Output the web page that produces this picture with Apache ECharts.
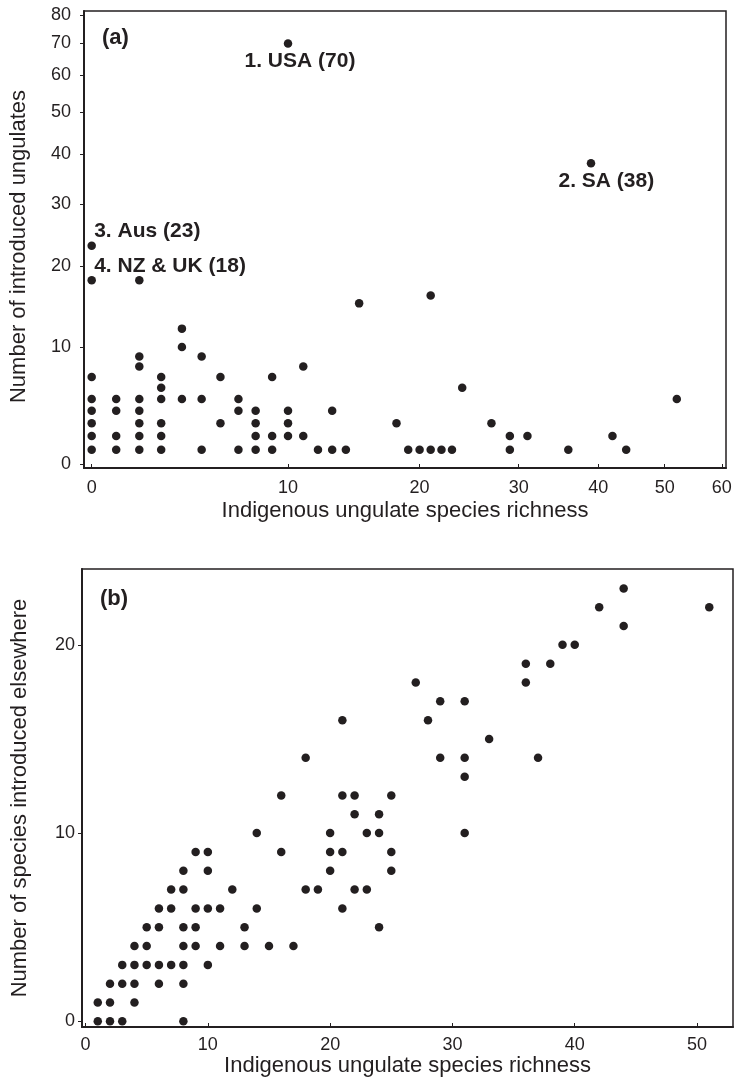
<!DOCTYPE html>
<html>
<head>
<meta charset="utf-8">
<title>Introduced ungulates</title>
<script src="https://cdn.jsdelivr.net/npm/echarts@6/dist/echarts.min.js"></script>
<style>
  html, body { margin: 0; padding: 0; background: #fff; }
  #chart { width: 736px; height: 1084px; }
</style>
</head>
<body>
<div id="chart"></div>
<script>
// (a) indigenous richness vs number of introduced ungulates, [richness, introduced]
const pointsA = [
  [0, 1], [0, 2], [0, 3], [0, 4], [0, 5], [0, 7], [0, 18], [0, 23],
  [1, 1], [1, 2], [1, 4], [1, 5],
  [2, 1], [2, 2], [2, 3], [2, 4], [2, 5], [2, 8], [2, 9], [2, 18],
  [3, 1], [3, 2], [3, 3], [3, 5], [3, 6], [3, 7],
  [4, 5], [4, 10], [4, 12],
  [5, 1], [5, 5], [5, 9],
  [6, 3], [6, 7],
  [7, 1], [7, 4], [7, 5],
  [8, 1], [8, 2], [8, 3], [8, 4],
  [9, 1], [9, 2], [9, 7],
  [10, 2], [10, 3], [10, 4], [10, 70],
  [11, 2], [11, 8],
  [12, 1], [13, 1], [13, 4], [14, 1], [15, 15],
  [18, 3], [19, 1], [20, 1], [21, 1], [21, 16], [22, 1], [23, 1], [24, 6],
  [27, 3], [29, 1], [29, 2], [31, 2], [36, 1], [39, 38], [42, 2], [44, 1], [52, 5],
]
const ticksXA = [0, 10, 20, 30, 40, 50, 60]
const ticksYA = [0, 10, 20, 30, 40, 50, 60, 70, 80]
const annotationText = ['1. USA (70)', '2. SA (38)', '3. Aus (23)', '4. NZ & UK (18)']
const annotationAt = [[10, 70], [39, 38], [0, 23], [0, 18]]

// (b) indigenous richness vs number of species introduced elsewhere
const pointsB = [
  [1, 0], [1, 1], [2, 0], [2, 1], [2, 2], [3, 0], [3, 2], [3, 3],
  [4, 1], [4, 2], [4, 3], [4, 4], [5, 3], [5, 4], [5, 5],
  [6, 2], [6, 3], [6, 5], [6, 6], [7, 3], [7, 6], [7, 7],
  [8, 0], [8, 2], [8, 3], [8, 4], [8, 5], [8, 7], [8, 8],
  [9, 4], [9, 5], [9, 6], [9, 9], [10, 3], [10, 6], [10, 8], [10, 9],
  [11, 4], [11, 6], [12, 7], [13, 4], [13, 5], [14, 6], [14, 10], [15, 4],
  [16, 9], [16, 12], [17, 4], [18, 7], [18, 14], [19, 7],
  [20, 8], [20, 9], [20, 10], [21, 6], [21, 9], [21, 12], [21, 16],
  [22, 7], [22, 11], [22, 12], [23, 7], [23, 10], [24, 5], [24, 10], [24, 11],
  [25, 8], [25, 9], [25, 12], [27, 18], [28, 16], [29, 14], [29, 17],
  [31, 10], [31, 13], [31, 14], [31, 17], [33, 15], [36, 18], [36, 19], [37, 14],
  [38, 19], [39, 20], [40, 20], [42, 22], [44, 21], [44, 23], [51, 22],
]
const ticksXB = [0, 10, 20, 30, 40, 50]
const ticksYB = [0, 10, 20]

// panel (a) uses log(v + c) scales on both axes
const fx = v => Math.log((v + 16) / 16)
const fxInv = t => 16 * Math.exp(t) - 16
const fy = v => Math.log((v + 18) / 18)
const fyInv = t => 18 * Math.exp(t) - 18

const ink = '#231f20'
const font = '"Liberation Sans", Arial, Helvetica, sans-serif'
const labelOffsets = [[-43, 18], [-32, 18], [3, -14], [3, -14]]

const line = { show: true, onZero: false, lineStyle: { color: ink, width: 2 } }
const tickLabel = { color: ink, fontSize: 18, fontFamily: font }
const axisName = { color: ink, fontSize: 22, fontFamily: font }
const panelRich = {
  n: { fontSize: 22, fontFamily: font, color: ink },
  b: { fontSize: 22, fontFamily: font, color: ink, fontWeight: 'bold' },
}

const chart = echarts.init(document.getElementById('chart'), null, { renderer: 'canvas' })

chart.setOption({
  animation: false,
  backgroundColor: '#fff',
  title: [
    { text: '{n|(}{b|a}{n|)}', left: 97, top: 22, textStyle: { rich: panelRich } },
    { text: '{n|(}{b|b}{n|)}', left: 95, top: 583, textStyle: { rich: panelRich } },
  ],
  grid: [
    { left: 83, top: 11, width: 643, height: 457, show: true, borderColor: ink, borderWidth: 1.5, backgroundColor: 'transparent' },
    { left: 82, top: 569, width: 651, height: 458, show: true, borderColor: ink, borderWidth: 1.5, backgroundColor: 'transparent' },
  ],
  xAxis: [
    {
      gridIndex: 0, type: 'value', min: -0.019, max: 1.5686,
      axisLine: line,
      axisTick: { show: true, inside: true, length: 4, lineStyle: { color: ink }, customValues: ticksXA.map(fx) },
      axisLabel: { ...tickLabel, margin: 11, customValues: ticksXA.map(fx), formatter: v => Math.round(fxInv(v)) },
      splitLine: { show: false },
      name: 'Indigenous ungulate species richness', nameLocation: 'middle', nameGap: 32, nameTextStyle: axisName,
    },
    {
      gridIndex: 1, type: 'value', min: -0.29, max: 52.94,
      axisLine: line,
      axisTick: { show: true, inside: true, length: 4, lineStyle: { color: ink }, customValues: ticksXB },
      axisLabel: { ...tickLabel, margin: 9, customValues: ticksXB },
      splitLine: { show: false },
      name: 'Indigenous ungulate species richness', nameLocation: 'middle', nameGap: 28, nameTextStyle: axisName,
    },
  ],
  yAxis: [
    {
      gridIndex: 0, type: 'value', min: -0.0151, max: 1.7094,
      axisLine: line,
      axisTick: { show: true, length: 4, lineStyle: { color: ink }, customValues: ticksYA.map(fy) },
      axisLabel: { ...tickLabel, margin: 13, customValues: ticksYA.map(fy), formatter: v => Math.round(fyInv(v)) },
      splitLine: { show: false },
      name: 'Number of introduced ungulates', nameLocation: 'middle', nameGap: 54,
      nameTextStyle: { ...axisName, padding: [0, 0, 0, -14] },
    },
    {
      gridIndex: 1, type: 'value', min: -0.3, max: 24.03,
      axisLine: line,
      axisTick: { show: true, length: 4, lineStyle: { color: ink }, customValues: ticksYB },
      axisLabel: { ...tickLabel, margin: 7, customValues: ticksYB },
      splitLine: { show: false },
      name: 'Number of species introduced elsewhere', nameLocation: 'middle', nameGap: 51, nameTextStyle: axisName,
    },
  ],
  series: [
    {
      type: 'scatter', xAxisIndex: 0, yAxisIndex: 0,
      symbolSize: 8.5, itemStyle: { color: ink, opacity: 1 },
      data: pointsA.map(([x, y]) => [fx(x), fy(y)]),
    },
    {
      type: 'scatter', xAxisIndex: 0, yAxisIndex: 0,
      symbolSize: 1, itemStyle: { color: 'rgba(0,0,0,0)', opacity: 1 }, silent: true,
      data: annotationAt.map(([x, y], i) => ({
        value: [fx(x), fy(y)],
        label: {
          show: true, formatter: annotationText[i], position: labelOffsets[i],
          align: 'left', verticalAlign: 'middle',
          color: ink, fontSize: 21, fontWeight: 'bold', fontFamily: font,
        },
      })),
    },
    {
      type: 'scatter', xAxisIndex: 1, yAxisIndex: 1,
      symbolSize: 8.5, itemStyle: { color: ink, opacity: 1 },
      data: pointsB,
    },
  ],
})
</script>
</body>
</html>
